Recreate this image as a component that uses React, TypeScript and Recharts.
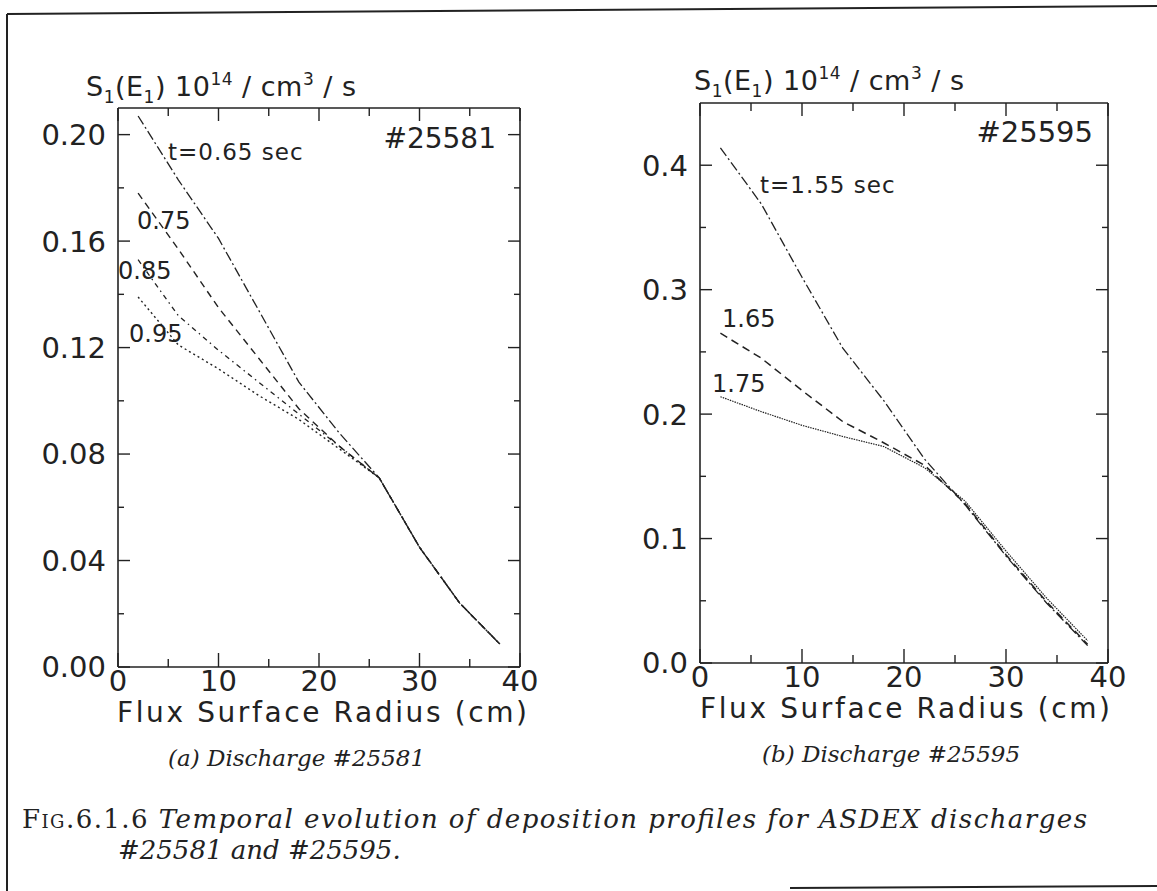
import React from "react";
import { Line, LineChart, XAxis, YAxis } from "recharts";

// radius samples (cm)
const radius = [2, 6, 10, 14, 18, 22, 26, 30, 34, 38];

// #25581, S1(E1) in 1e14/cm^3/s
const a065 = [0.207, 0.183, 0.161, 0.134, 0.107, 0.088, 0.071, 0.045, 0.024, 0.0086];
const a075 = [0.178, 0.157, 0.135, 0.116, 0.097, 0.083, 0.071, 0.045, 0.024, 0.0086];
const a085 = [0.153, 0.132, 0.119, 0.107, 0.095, 0.083, 0.071, 0.045, 0.024, 0.0086];
const a095 = [0.139, 0.121, 0.112, 0.102, 0.093, 0.082, 0.071, 0.045, 0.024, 0.0086];

// #25595
const b155 = [0.414, 0.369, 0.31, 0.253, 0.211, 0.164, 0.127, 0.086, 0.048, 0.014];
const b165 = [0.265, 0.245, 0.219, 0.194, 0.177, 0.159, 0.128, 0.087, 0.049, 0.015];
const b175 = [0.214, 0.202, 0.191, 0.182, 0.174, 0.157, 0.13, 0.09, 0.052, 0.018];

const xTicks = [0, 5, 10, 15, 20, 25, 30, 35, 40];
const xMajor = [0, 10, 20, 30, 40];
const yTicksA = [0, 0.02, 0.04, 0.06, 0.08, 0.1, 0.12, 0.14, 0.16, 0.18, 0.2];
const yMajorA = [0, 0.04, 0.08, 0.12, 0.16, 0.2];
const yTicksB = [0, 0.05, 0.1, 0.15, 0.2, 0.25, 0.3, 0.35, 0.4];
const yMajorB = [0, 0.1, 0.2, 0.3, 0.4];

const dataA = radius.map((r, i) => ({ r, a065: a065[i], a075: a075[i], a085: a085[i], a095: a095[i] }));
const dataB = radius.map((r, i) => ({ r, b155: b155[i], b165: b165[i], b175: b175[i] }));

const INK = "#222";
const SANS = "'DejaVu Sans', sans-serif";
const SERIF = "'DejaVu Serif', serif";

const isMajor = (majors: number[], v: number) => majors.some((m) => Math.abs(m - v) < 1e-9);

function Tick(props: any) {
  const { x, y, payload, side, majors, fmt } = props;
  const v = payload.value;
  const major = isMajor(majors, v);
  const len = side === "bottom" ? (major ? 14 : 8) : major ? 12 : 6;
  let x2 = x;
  let y2 = y;
  if (side === "bottom") y2 = y - len;
  if (side === "left") x2 = x + len;
  if (side === "right") x2 = x - len;
  return (
    <g>
      <line x1={x} y1={y} x2={x2} y2={y2} stroke={INK} strokeWidth={1.4} />
      {fmt && major && side === "bottom" && (
        <text x={x} y={y + 24} textAnchor="middle" fontFamily={SANS} fontSize={29} fill={INK}>
          {fmt(v)}
        </text>
      )}
      {fmt && major && side === "left" && (
        <text x={x - 12} y={y} dy="0.36em" textAnchor="end" fontFamily={SANS} fontSize={29} fill={INK}>
          {fmt(v)}
        </text>
      )}
    </g>
  );
}

function Panel({
  data,
  keys,
  yMax,
  yTicks,
  yMajor,
  yFmt,
  width,
  height,
  margin,
}: {
  data: any[];
  keys: { key: string; dash: string; w: number }[];
  yMax: number;
  yTicks: number[];
  yMajor: number[];
  yFmt: (v: number) => string;
  width: number;
  height: number;
  margin: { top: number; right: number; bottom: number; left: number };
}) {
  const axisLine = { stroke: INK, strokeWidth: 1.6 };
  return (
    <LineChart width={width} height={height} data={data} margin={margin}>
      <XAxis
        dataKey="r"
        type="number"
        domain={[0, 40]}
        ticks={xTicks}
        interval={0}
        height={30}
        tickSize={0}
        tickMargin={0}
        tickLine={false}
        axisLine={axisLine}
        tick={(p: any) => <Tick {...p} side="bottom" majors={xMajor} fmt={(v: number) => String(v)} />}
      />
      <YAxis
        type="number"
        domain={[0, yMax]}
        allowDataOverflow
        ticks={yTicks}
        interval={0}
        width={60}
        tickSize={0}
        tickMargin={0}
        tickLine={false}
        axisLine={axisLine}
        tick={(p: any) => <Tick {...p} side="left" majors={yMajor} fmt={yFmt} />}
      />
      <YAxis
        yAxisId="right"
        orientation="right"
        type="number"
        domain={[0, yMax]}
        allowDataOverflow
        ticks={yTicks}
        interval={0}
        width={10}
        tickSize={0}
        tickMargin={0}
        tickLine={false}
        axisLine={axisLine}
        tick={(p: any) => <Tick {...p} side="right" majors={yMajor} />}
      />
      {/* hidden series so the mirrored right axis gets a scale */}
      <Line
        yAxisId="right"
        dataKey={keys[0].key}
        stroke="none"
        dot={false}
        activeDot={false}
        isAnimationActive={false}
      />
      {keys.map((k) => (
        <Line
          key={k.key}
          dataKey={k.key}
          type="linear"
          stroke={INK}
          strokeWidth={k.w}
          strokeDasharray={k.dash}
          dot={false}
          activeDot={false}
          isAnimationActive={false}
        />
      ))}
    </LineChart>
  );
}

// top edge of a frame with inward ticks (decoration only)
function TopEdge({ left, right, top }: { left: number; right: number; top: number }) {
  const w = right - left;
  return (
    <g stroke={INK}>
      <line x1={left} y1={top} x2={right} y2={top} strokeWidth={1.6} />
      {xTicks.map((v) => {
        const x = left + (v / 40) * w;
        return <line key={v} x1={x} y1={top} x2={x} y2={top + (isMajor(xMajor, v) ? 13 : 8)} strokeWidth={1.4} />;
      })}
    </g>
  );
}

function AxisTitle({ x, y }: { x: number; y: number }) {
  return (
    <text x={x} y={y} fontFamily={SANS} fontSize={27} fill={INK} letterSpacing={0.5}>
      S
      <tspan dy={7} fontSize={17}>1</tspan>
      <tspan dy={-7}>(E</tspan>
      <tspan dy={7} fontSize={17}>1</tspan>
      <tspan dy={-7}>) 10</tspan>
      <tspan dy={-11} fontSize={17}>14</tspan>
      <tspan dy={11}> / cm</tspan>
      <tspan dy={-11} fontSize={17}>3</tspan>
      <tspan dy={11}> / s</tspan>
    </text>
  );
}

export default function App() {
  const lbl = { fontFamily: SANS, fill: INK } as const;
  return (
    <div style={{ position: "absolute", left: 0, top: 0, width: 1157, height: 891, background: "#fff", overflow: "hidden" }}>
      <div style={{ position: "absolute", left: 0, top: 0 }}>
        <Panel
          data={dataA}
          keys={[
            { key: "a065", dash: "10 3 2 3", w: 1.3 },
            { key: "a075", dash: "7 5", w: 1.4 },
            { key: "a085", dash: "5 4 1.5 4", w: 1.3 },
            { key: "a095", dash: "2 3", w: 1.4 },
          ]}
          yMax={0.21}
          yTicks={yTicksA}
          yMajor={yMajorA}
          yFmt={(v) => v.toFixed(2)}
          width={580}
          height={740}
          margin={{ top: 108, left: 58, right: 50, bottom: 43 }}
        />
      </div>
      <div style={{ position: "absolute", left: 580, top: 0 }}>
        <Panel
          data={dataB}
          keys={[
            { key: "b155", dash: "10 3 2 3", w: 1.3 },
            { key: "b165", dash: "8 5", w: 1.5 },
            { key: "b175", dash: "1.5 1", w: 1.2 },
          ]}
          yMax={0.45}
          yTicks={yTicksB}
          yMajor={yMajorB}
          yFmt={(v) => v.toFixed(1)}
          width={577}
          height={740}
          margin={{ top: 103, left: 60, right: 39, bottom: 47 }}
        />
      </div>
      <svg
        width={1157}
        height={891}
        style={{ position: "absolute", left: 0, top: 0, pointerEvents: "none" }}
      >
        {/* page border */}
        <line x1={7} y1={14} x2={1157} y2={6} stroke={INK} strokeWidth={2} />
        <line x1={7} y1={14} x2={7} y2={891} stroke={INK} strokeWidth={2} />
        <line x1={790} y1={888} x2={1157} y2={886} stroke={INK} strokeWidth={2} />

        <TopEdge left={118} right={520} top={108} />
        <TopEdge left={700} right={1108} top={103} />

        <AxisTitle x={86} y={96} />
        <AxisTitle x={694} y={90} />

        <text {...lbl} x={496} y={148} fontSize={28} textAnchor="end">#25581</text>
        <text {...lbl} x={168} y={160} fontSize={23} letterSpacing={1}>t=0.65 sec</text>
        <text {...lbl} x={137} y={229} fontSize={24}>0.75</text>
        <text {...lbl} x={118} y={279} fontSize={24}>0.85</text>
        <text {...lbl} x={129} y={342} fontSize={24}>0.95</text>

        <text {...lbl} x={1093} y={142} fontSize={29} textAnchor="end">#25595</text>
        <text {...lbl} x={760} y={193} fontSize={23} letterSpacing={1}>t=1.55 sec</text>
        <text {...lbl} x={722} y={327} fontSize={24}>1.65</text>
        <text {...lbl} x={712} y={392} fontSize={24}>1.75</text>

        <text {...lbl} x={117} y={722} fontSize={28} textLength={410} lengthAdjust="spacing">
          Flux Surface Radius (cm)
        </text>
        <text {...lbl} x={700} y={718} fontSize={28} textLength={410} lengthAdjust="spacing">
          Flux Surface Radius (cm)
        </text>

        <text x={168} y={766} fontFamily={SERIF} fontStyle="italic" fontSize={23} fill={INK}>
          (a) Discharge #25581
        </text>
        <text x={762} y={762} fontFamily={SERIF} fontStyle="italic" fontSize={23} fill={INK}>
          (b) Discharge #25595
        </text>
        <text x={22} y={828} fontFamily={SERIF} fontSize={26} fill={INK} textLength={1065} lengthAdjust="spacing">
          <tspan style={{ fontVariant: "small-caps" }}>Fig.6.1.6</tspan>
          <tspan fontStyle="italic"> Temporal evolution of deposition profiles for ASDEX discharges</tspan>
        </text>
        <text x={118} y={859} fontFamily={SERIF} fontStyle="italic" fontSize={26} fill={INK}>
          #25581 and  #25595.
        </text>
      </svg>
    </div>
  );
}
